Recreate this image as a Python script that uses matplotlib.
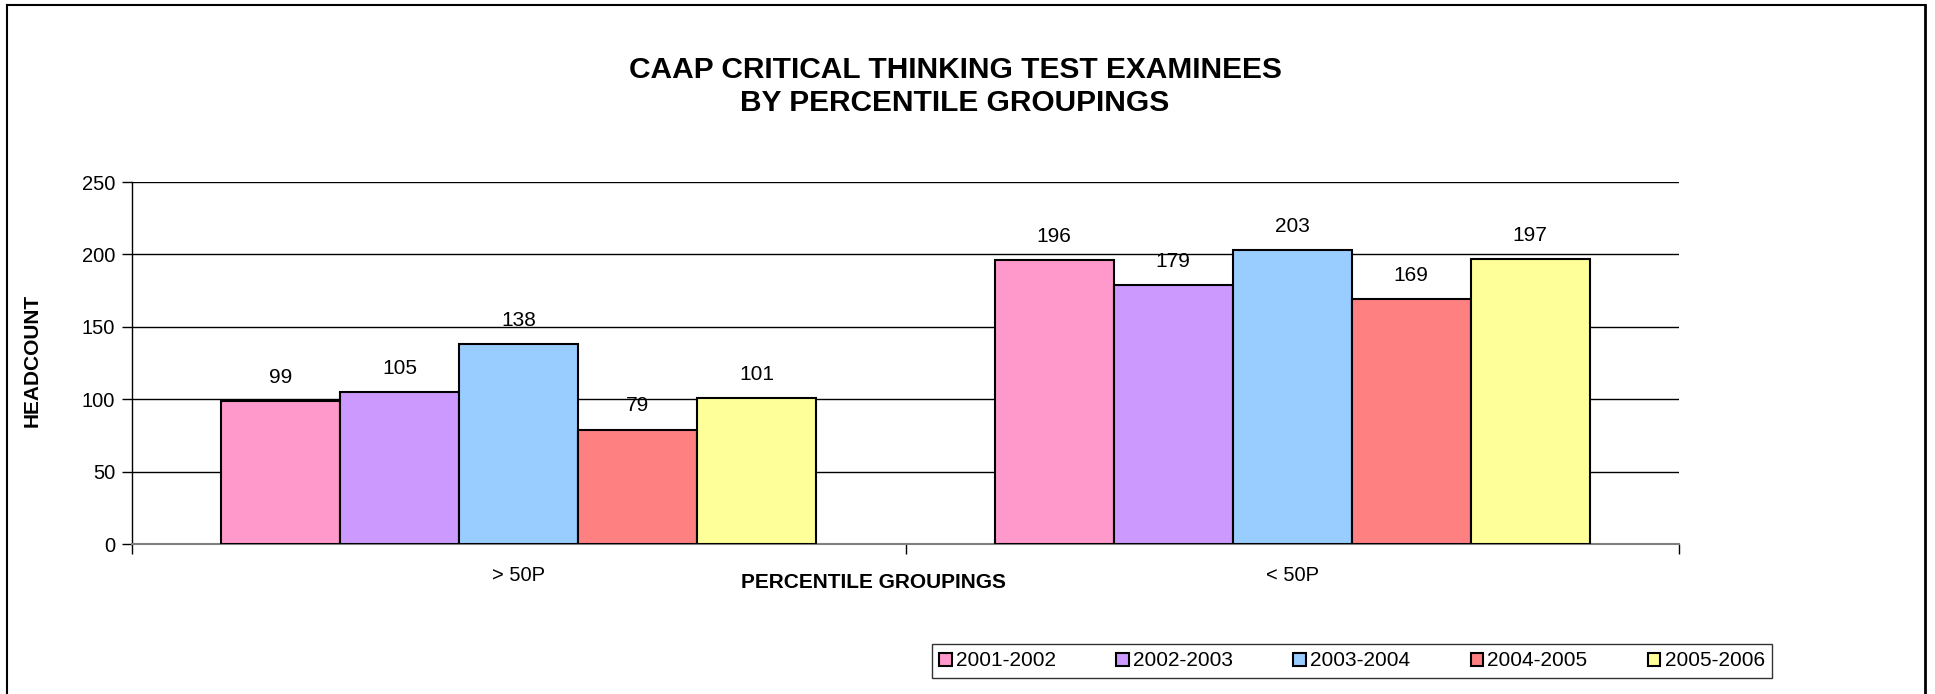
import numpy as np
import matplotlib.pyplot as plt
from matplotlib.lines import Line2D

plt.rcParams['font.family'] = ['Liberation Sans', 'DejaVu Sans']

categories = ['> 50P', '< 50P']
years = ['2001-2002', '2002-2003', '2003-2004', '2004-2005', '2005-2006']
values = {
    '2001-2002': [99, 196],
    '2002-2003': [105, 179],
    '2003-2004': [138, 203],
    '2004-2005': [79, 169],
    '2005-2006': [101, 197],
}
colors = ['#FF99CC', '#CC99FF', '#99CCFF', '#FF8080', '#FFFF99']

W, H = 1935, 694
fig = plt.figure(figsize=(W / 100, H / 100), dpi=100)
ax = fig.add_axes([132 / W, 150 / H, (1679 - 132) / W, (544 - 182) / H])

# outer chart frame
fig.add_artist(Line2D([7 / W, 7 / W], [0, 1 - 5 / H], color='black', lw=1.5))
fig.add_artist(Line2D([7 / W, 1925 / W], [1 - 5 / H, 1 - 5 / H], color='black', lw=1.5))
fig.add_artist(Line2D([1925 / W, 1925 / W], [0, 1 - 5 / H], color='black', lw=2))

n = len(years)
bw = 1 / (n + 1.5)
centers = np.arange(len(categories)) + 0.5
for i, (yr, c) in enumerate(zip(years, colors)):
    x = centers + (i - (n - 1) / 2) * bw
    ax.bar(x, values[yr], width=bw, color=c, edgecolor='black', linewidth=1.5,
           label=yr, zorder=3)
    for xi, v in zip(x, values[yr]):
        ax.annotate(str(v), (xi, v), xytext=(0, 17), textcoords='offset points',
                    ha='center', va='center', fontsize=15)

ax.set_xlim(0, 2)
ax.set_ylim(0, 250)
ax.set_yticks(np.arange(0, 251, 50))
ax.yaxis.grid(True, color='black', linewidth=1, zorder=0)
ax.tick_params(axis='y', labelsize=14.5, length=7, width=1, pad=5)

ax.set_xticks([0, 1, 2])
ax.set_xticklabels([])
ax.tick_params(axis='x', which='major', direction='out', length=7, width=1)
ax.set_xticks(centers, minor=True)
ax.set_xticklabels(categories, minor=True)
ax.tick_params(axis='x', which='minor', length=0, labelsize=14.5, pad=16)

for s in ['top', 'right']:
    ax.spines[s].set_visible(False)
ax.spines['left'].set_linewidth(1)
ax.spines['bottom'].set_color('#808080')
ax.spines['bottom'].set_linewidth(1.5)

fig.text(955 / W, 1 - 70 / H, 'CAAP CRITICAL THINKING TEST EXAMINEES', ha='center', va='center',
         fontsize=21.5, fontweight='bold')
fig.text(955 / W, 1 - 103 / H, 'BY PERCENTILE GROUPINGS', ha='center', va='center',
         fontsize=21.5, fontweight='bold')
fig.text(873 / W, 1 - 583 / H, 'PERCENTILE GROUPINGS', ha='center', va='center',
         fontsize=15, fontweight='bold')
fig.text(32 / W, 1 - 360 / H, 'HEADCOUNT', ha='center', va='center', rotation=90,
         fontsize=15, fontweight='bold')

leg = fig.legend(loc='center', bbox_to_anchor=(1352 / W, 1 - 661 / H), ncol=5, fontsize=15,
                 frameon=True, fancybox=False, edgecolor='black', handlelength=0.6,
                 handleheight=0.6, handletextpad=0.2, columnspacing=2.9,
                 borderpad=0.35)
leg.get_frame().set_linewidth(1)

fig.savefig('out.png', dpi=100)
